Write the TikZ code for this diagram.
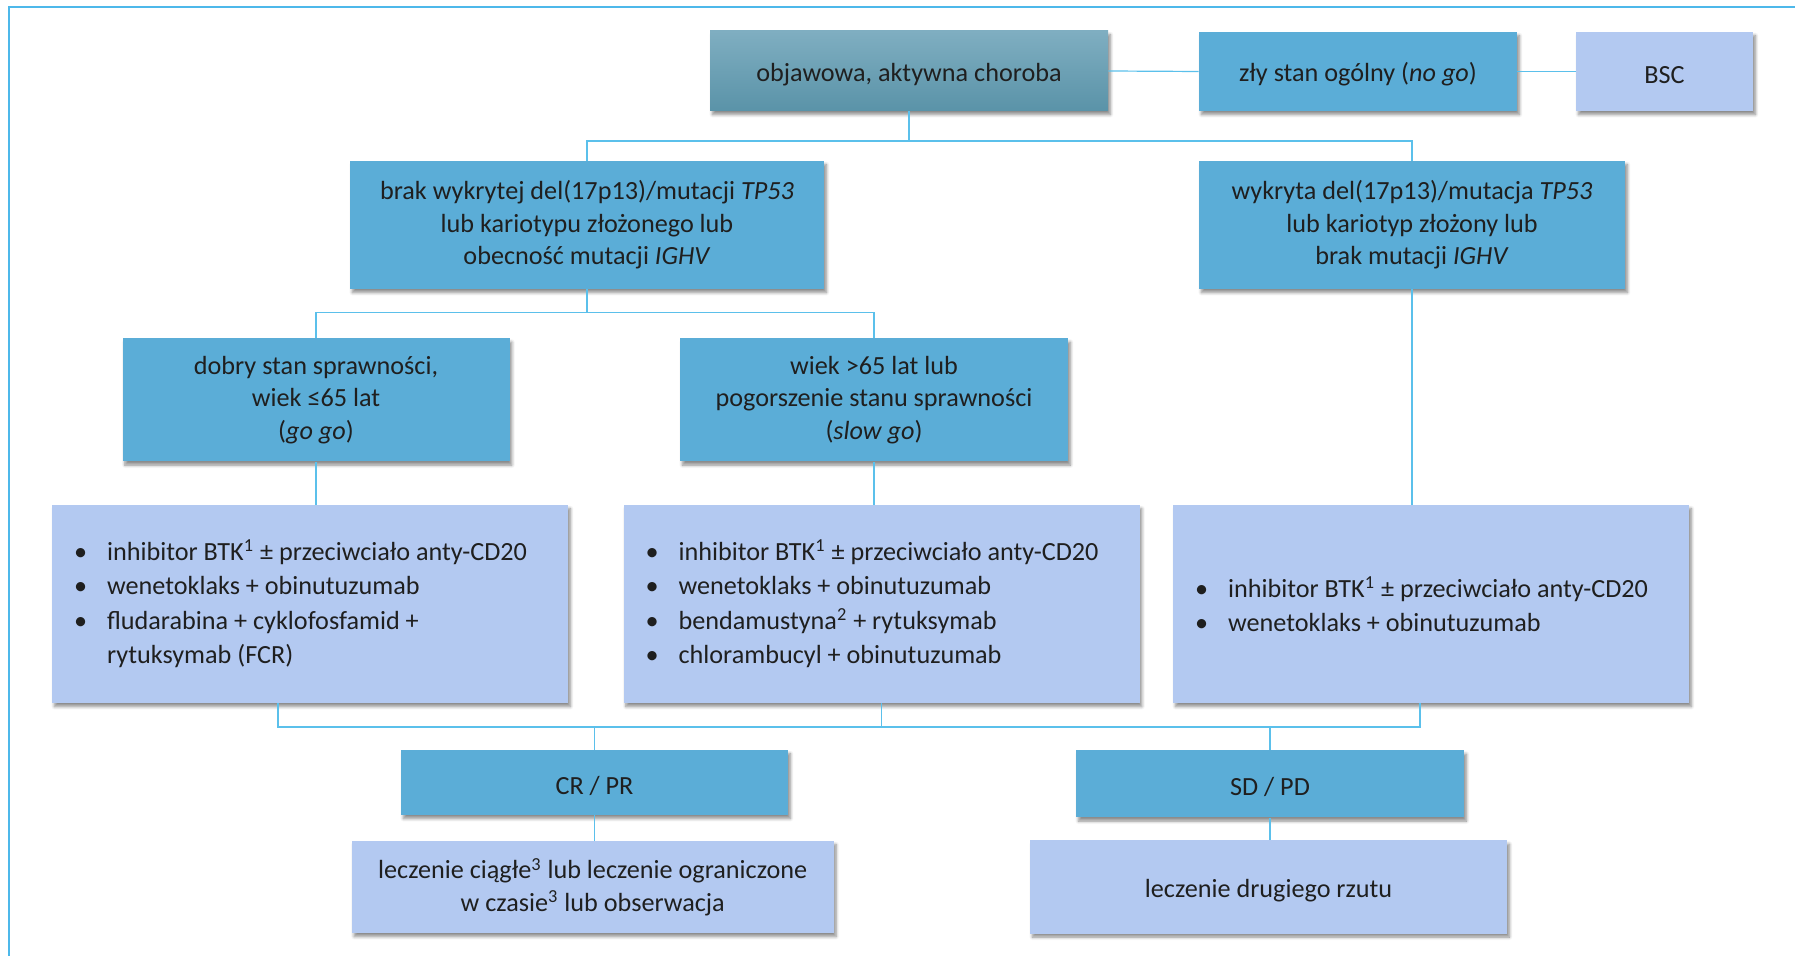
\documentclass[tikz,border=0pt]{standalone}
\usepackage{fontspec}
\setmainfont{Carlito}
\usetikzlibrary{shadows.blur}
\definecolor{tealtop}{HTML}{7FAEC1}
\definecolor{tealbot}{HTML}{5A93A8}
\definecolor{midblue}{HTML}{5BADD7}
\definecolor{paleblue}{HTML}{B3C9F1}
\definecolor{linkblue}{HTML}{5BC0EB}
\definecolor{frameblue}{HTML}{4DB8EA}
\definecolor{ink}{HTML}{1F1F1F}
\newcommand{\bul}{\makebox[16.5pt][l]{\textbullet}}
\newcommand{\hang}{\hspace*{16.5pt}}
\newcommand{\tail}{\hspace*{9.5pt}}
\tikzset{
  base/.style={align=center, text=ink, inner sep=0pt, font=\fontsize{13.1}{16.3}\selectfont,
    execute at begin node={\rule{0pt}{12.5pt}},
    blur shadow={shadow xshift=1.2pt, shadow yshift=-1.8pt, shadow blur steps=6, shadow blur radius=1.5pt, shadow opacity=45}},
  multi/.style={execute at begin node={\rule{0pt}{15pt}}},
  headbox/.style={base, top color=tealtop, bottom color=tealbot},
  midbox/.style={base, fill=midblue},
  palebox/.style={base, fill=paleblue},
  listbox/.style={palebox, multi, align=left, minimum width=258pt, minimum height=99pt, font=\fontsize{13.1}{17.15}\selectfont},
  link/.style={draw=linkblue, line width=0.6pt},
  frame/.style={draw=frameblue, line width=1pt}
}

\begin{document}
\begin{tikzpicture}[x=0.5pt,y=-0.5pt]
  \useasboundingbox (0,0) rectangle (1795,956);
  \draw[frame] (9,956) -- (9,7) -- (1795,7);

  \node[headbox, minimum width=199pt, minimum height=40pt] (choroba) at (909,71) {objawowa, aktywna choroba};
  \node[midbox, minimum width=159pt, minimum height=39.5pt] (nogo) at (1358,71.5) {zły stan ogólny (\textit{no go})};
  \node[palebox, minimum width=88.5pt, minimum height=39.5pt] (bsc) at (1664.5,71.5) {BSC};

  \node[midbox, multi, minimum width=237pt, minimum height=64pt] (brak) at (587,225)
    {brak wykrytej del(17p13)/mutacji \textit{TP53}\\lub kariotypu złożonego lub\\obecność mutacji \textit{IGHV}};
  \node[midbox, multi, minimum width=213pt, minimum height=64pt] (wykryta) at (1412,225)
    {wykryta del(17p13)/mutacja \textit{TP53}\\lub kariotyp złożony lub\\brak mutacji \textit{IGHV}};

  \node[midbox, multi, minimum width=193.5pt, minimum height=61.5pt] (gogo) at (316,400)
    {dobry stan sprawności,\\wiek ≤65 lat\\(\textit{go go})};
  \node[midbox, multi, minimum width=194pt, minimum height=61.5pt] (slowgo) at (874,400)
    {wiek >65 lat lub\\pogorszenie stanu sprawności\\(\textit{slow go})};

  \node[listbox] (rxgogo) at (310,604)
    {\bul inhibitor BTK\textsuperscript{1} ± przeciwciało anty-CD20\tail\\
     \bul wenetoklaks + obinutuzumab\\
     \bul fludarabina + cyklofosfamid +\\
     \hang rytuksymab (FCR)};
  \node[listbox] (rxslow) at (881.5,604)
    {\bul inhibitor BTK\textsuperscript{1} ± przeciwciało anty-CD20\tail\\
     \bul wenetoklaks + obinutuzumab\\
     \bul bendamustyna\textsuperscript{2} + rytuksymab\\
     \bul chlorambucyl + obinutuzumab};
  \node[listbox] (rxhigh) at (1431,604)
    {\bul inhibitor BTK\textsuperscript{1} ± przeciwciało anty-CD20\tail\\
     \bul wenetoklaks + obinutuzumab};

  \node[midbox, minimum width=193.5pt, minimum height=32.5pt] (crpr) at (594.5,782.5) {CR / PR};
  \node[midbox, minimum width=194pt, minimum height=33.5pt] (sdpd) at (1270,784) {SD / PD};
  \node[palebox, multi, minimum width=241pt, minimum height=46pt] (dalej) at (592.7,887)
    {leczenie ciągłe\textsuperscript{3} lub leczenie ograniczone\\w czasie\textsuperscript{3} lub obserwacja};
  \node[palebox, minimum width=238.5pt, minimum height=46.5pt] (drugi) at (1268.5,887) {leczenie drugiego rzutu};

  \coordinate (busA) at (0,141);
  \coordinate (busB) at (0,312.5);
  \coordinate (busC) at (0,727);
  \coordinate (outA) at ([xshift=-16pt]rxgogo.south);
  \coordinate (outC) at ([xshift=-5.5pt]rxhigh.south);

  \draw[link] (choroba.east) -- (nogo.west);
  \draw[link] (nogo.east) -- (bsc.west);
  \draw[link] (choroba.south) -- (choroba.south |- busA);
  \draw[link] (brak.north) |- (wykryta.north |- busA) -- (wykryta.north);
  \draw[link] (brak.south) -- (brak.south |- busB);
  \draw[link] (gogo.north) |- (slowgo.north |- busB) -- (slowgo.north);
  \draw[link] (gogo.south) -- (gogo.south |- rxgogo.north);
  \draw[link] (slowgo.south) -- (slowgo.south |- rxslow.north);
  \draw[link] (wykryta.south) -- (wykryta.south |- rxhigh.north);
  \draw[link] (outA) |- (outC |- busC) -- (outC);
  \draw[link] (rxslow.south) -- (rxslow.south |- busC);
  \draw[link] (crpr.north) -- (crpr.north |- busC);
  \draw[link] (sdpd.north) -- (sdpd.north |- busC);
  \draw[link] (crpr.south) -- (crpr.south |- dalej.north);
  \draw[link] (sdpd.south) -- (sdpd.south |- drugi.north);
\end{tikzpicture}
\end{document}
